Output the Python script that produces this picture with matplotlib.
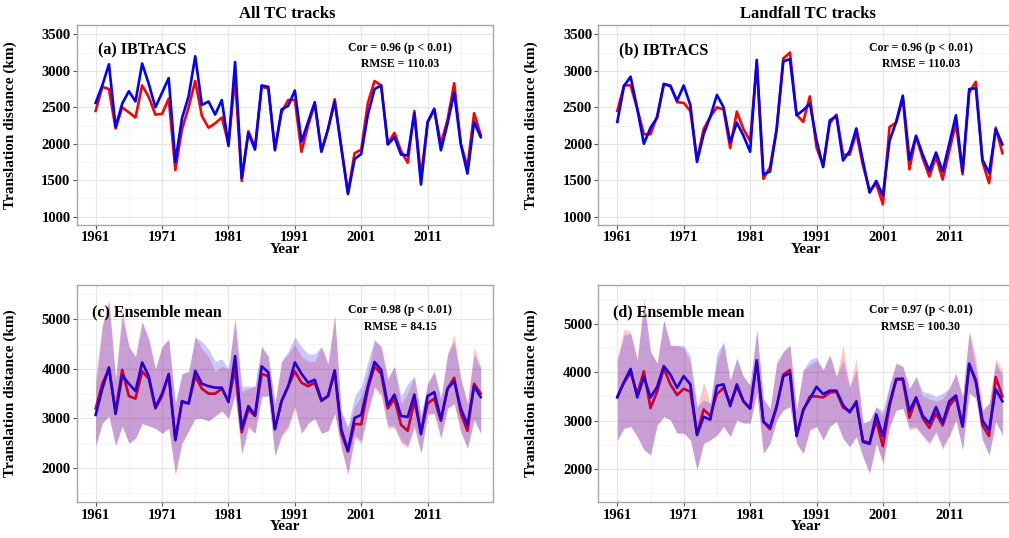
import matplotlib
matplotlib.use('Agg')
import matplotlib.pyplot as plt
from matplotlib.ticker import MultipleLocator, FixedLocator

# ---------------------------------------------------------------------------
# data (translation distance, km)

years = list(range(1961, 2020))

# (a) all TC tracks, IBTrACS (red) vs reconstruction (blue)
a_red = [2450, 2780, 2750, 2210, 2500, 2430, 2360, 2800, 2640, 2400,
         2410, 2620, 1640, 2200, 2500, 2860, 2380, 2220, 2280, 2360,
         2000, 2900, 1490, 2170, 1950, 2780, 2760, 1930, 2430, 2600,
         2600, 1890, 2250, 2550, 1900, 2200, 2610, 1950, 1330, 1870,
         1920, 2560, 2860, 2800, 2000, 2150, 1900, 1740, 2450, 1550,
         2290, 2470, 2000, 2330, 2830, 2000, 1680, 2420, 2120]
a_blue = [2560, 2800, 3090, 2230, 2550, 2720, 2580, 3100, 2820, 2500,
          2700, 2900, 1750, 2350, 2650, 3200, 2530, 2580, 2400, 2600,
          1970, 3120, 1530, 2150, 1920, 2800, 2780, 1910, 2470, 2520,
          2730, 2030, 2300, 2570, 1890, 2200, 2580, 1945, 1310, 1790,
          1860, 2400, 2750, 2800, 1990, 2090, 1850, 1840, 2420, 1440,
          2300, 2480, 1910, 2280, 2700, 1990, 1590, 2300, 2090]

# (b) landfall TC tracks, IBTrACS
b_red = [2450, 2800, 2800, 2480, 2130, 2130, 2380, 2820, 2800, 2570,
         2560, 2450, 1780, 2200, 2370, 2500, 2470, 1940, 2440, 2200,
         2040, 3100, 1520, 1680, 2200, 3170, 3250, 2400, 2300, 2650,
         1950, 1700, 2280, 2400, 1850, 1850, 2150, 1700, 1360, 1450,
         1170, 2230, 2290, 2620, 1650, 2100, 1800, 1550, 1820, 1510,
         1900, 2280, 1580, 2700, 2850, 1750, 1460, 2220, 1870]
b_blue = [2300, 2790, 2920, 2480, 2000, 2220, 2360, 2820, 2790, 2590,
          2800, 2530, 1750, 2130, 2370, 2670, 2500, 2020, 2290, 2110,
          1890, 3150, 1580, 1620, 2200, 3130, 3160, 2390, 2460, 2550,
          2050, 1680, 2320, 2380, 1770, 1900, 2210, 1760, 1330, 1490,
          1290, 2040, 2300, 2660, 1780, 2110, 1850, 1630, 1880, 1620,
          2000, 2390, 1620, 2750, 2760, 1780, 1600, 2200, 1990]

# (c) all TC tracks, ensemble mean and spread
c_red = [3200, 3700, 4000, 3150, 3980, 3450, 3400, 3950, 3800, 3200,
         3450, 3900, 2580, 3330, 3300, 3850, 3600, 3500, 3500, 3600,
         3350, 4000, 2720, 3180, 3050, 3900, 3850, 2800, 3350, 3650,
         3950, 3720, 3650, 3720, 3350, 3450, 3950, 2700, 2330, 2890,
         2880, 3600, 4050, 3900, 3200, 3400, 2870, 2750, 3350, 2720,
         3300, 3400, 2950, 3600, 3820, 3100, 2750, 3700, 3500]
c_blue = [3070, 3600, 4030, 3090, 3870, 3700, 3550, 4130, 3850, 3220,
          3500, 3880, 2560, 3350, 3300, 3960, 3700, 3650, 3620, 3620,
          3330, 4260, 2800, 3250, 3060, 4050, 3930, 2780, 3350, 3650,
          4130, 3900, 3720, 3780, 3370, 3450, 3970, 2780, 2350, 3010,
          3070, 3650, 4140, 3980, 3270, 3480, 3050, 3030, 3480, 2680,
          3450, 3530, 2980, 3600, 3750, 3200, 2870, 3650, 3430]
c_red_hi = [3850, 4900, 5400, 3800, 5250, 4450, 4250, 4950, 4600, 4000,
            4450, 4600, 3300, 3900, 3950, 4650, 4400, 4250, 3950, 4050,
            4000, 5000, 3550, 3600, 3650, 4450, 4250, 3300, 4150, 4300,
            4500, 4250, 4150, 4150, 4450, 4100, 5100, 3100, 2800, 3250,
            3450, 3950, 4550, 4450, 3800, 4050, 3300, 3500, 3850, 3050,
            3700, 3950, 3400, 4300, 4700, 3800, 3300, 4450, 4050]
c_blue_hi = [3650, 4850, 5350, 3800, 5050, 4450, 4250, 4950, 4600, 4000,
             4450, 4600, 3300, 3900, 3950, 4650, 4550, 4400, 4150, 4200,
             4000, 5000, 3650, 3650, 3650, 4450, 4250, 3300, 4150, 4350,
             4650, 4450, 4300, 4300, 4450, 4100, 5050, 3150, 2850, 3450,
             3650, 4150, 4600, 4450, 3800, 4050, 3450, 3700, 3850, 3050,
             3700, 3950, 3400, 4300, 4550, 3800, 3300, 4300, 4000]
c_red_lo = [2450, 2900, 3050, 2450, 2850, 2500, 2600, 2900, 2850, 2800,
            2700, 2800, 1850, 2500, 2750, 3000, 3000, 2950, 3050, 3150,
            3000, 3450, 2250, 2800, 2700, 3450, 3450, 2250, 2650, 2800,
            3200, 2700, 2900, 3000, 2700, 2750, 3100, 2400, 1850, 2600,
            2500, 3100, 3600, 3450, 2800, 2800, 2500, 2400, 2800, 2300,
            3050, 3100, 2600, 3200, 3300, 2700, 2400, 3000, 2700]
c_blue_lo = [2450, 2900, 3050, 2450, 2850, 2500, 2600, 2900, 2850, 2800,
             2700, 2800, 1900, 2500, 2750, 3000, 3000, 2950, 3050, 3150,
             3000, 3500, 2300, 2850, 2700, 3450, 3450, 2250, 2650, 2850,
             3250, 2700, 2900, 3000, 2700, 2750, 3100, 2400, 1900, 2650,
             2550, 3150, 3650, 3500, 2850, 2850, 2550, 2450, 2850, 2300,
             3100, 3100, 2600, 3200, 3300, 2750, 2400, 2950, 2700]

# (d) landfall TC tracks, ensemble mean and spread
d_red = [3500, 3780, 4000, 3550, 4020, 3260, 3600, 4080, 3750, 3530,
         3660, 3600, 2720, 3230, 3100, 3550, 3680, 3350, 3700, 3400,
         3250, 4200, 2980, 2820, 3280, 3950, 4050, 2700, 3200, 3500,
         3500, 3480, 3580, 3600, 3270, 3200, 3350, 2580, 2540, 3000,
         2470, 3300, 3850, 3850, 3060, 3450, 3050, 2850, 3150, 2900,
         3300, 3480, 2880, 4150, 3850, 2900, 2680, 3900, 3500]
d_blue = [3480, 3800, 4070, 3480, 3900, 3480, 3700, 4130, 3950, 3680,
          3920, 3750, 2700, 3080, 3020, 3720, 3750, 3300, 3750, 3400,
          3250, 4250, 2980, 2860, 3300, 3920, 3980, 2680, 3230, 3450,
          3700, 3550, 3620, 3620, 3320, 3170, 3400, 2560, 2520, 3130,
          2680, 3350, 3860, 3870, 3200, 3480, 3100, 2950, 3280, 2950,
          3400, 3520, 2880, 4180, 3800, 3000, 2800, 3650, 3400]
d_red_hi = [4300, 4890, 4840, 4250, 5530, 4430, 4190, 5080, 4560, 4560,
            4500, 4200, 3290, 3800, 3360, 4220, 4600, 3840, 4290, 3910,
            3740, 4880, 3450, 3250, 4190, 4430, 4560, 3220, 4050, 4150,
            4250, 4050, 4360, 3910, 4560, 3700, 4290, 2950, 3000, 3290,
            3100, 3740, 4190, 4120, 3670, 3910, 3500, 3450, 3400, 3450,
            3670, 3980, 3500, 4840, 4320, 3220, 3360, 4290, 4050]
d_blue_hi = [4250, 4770, 4800, 4250, 5450, 4430, 4190, 5080, 4560, 4560,
             4560, 4330, 3290, 3430, 3360, 4390, 4630, 3840, 4290, 3910,
             3740, 4880, 3450, 3250, 4190, 4430, 4560, 3220, 4050, 4260,
             4310, 4050, 4360, 3910, 4250, 3700, 4050, 2950, 3000, 3290,
             3200, 3740, 4190, 4120, 3670, 3910, 3600, 3570, 3500, 3570,
             3670, 3980, 3500, 4840, 4100, 3220, 3360, 4200, 3950]
d_red_lo = [2600, 2840, 2880, 2670, 2400, 2290, 2910, 3080, 3010, 2740,
            2740, 2600, 1980, 2530, 2600, 2700, 2880, 2670, 3010, 2950,
            2950, 3570, 2320, 2530, 3010, 3220, 3290, 2530, 2320, 2810,
            2880, 2600, 2880, 2980, 2630, 2460, 2670, 2250, 1910, 2530,
            2080, 2880, 3220, 3250, 2810, 2840, 2670, 2500, 2740, 2400,
            2670, 3010, 2400, 3570, 3460, 2600, 2290, 2980, 2700]
d_blue_lo = [2600, 2840, 2880, 2670, 2400, 2290, 2910, 3080, 3010, 2740,
             2740, 2600, 1980, 2530, 2600, 2700, 2880, 2670, 3010, 2950,
             2950, 3570, 2320, 2530, 3010, 3220, 3290, 2530, 2320, 2810,
             2880, 2600, 2880, 2980, 2630, 2460, 2670, 2250, 1910, 2530,
             2150, 2880, 3220, 3250, 2850, 2880, 2700, 2550, 2780, 2450,
             2700, 3010, 2400, 3570, 3460, 2600, 2290, 2980, 2700]

cor_text = ['Cor = 0.96 (p < 0.01)\nRMSE = 110.03',
            'Cor = 0.96 (p < 0.01)\nRMSE = 110.03',
            'Cor = 0.98 (p < 0.01)\nRMSE = 84.15',
            'Cor = 0.97 (p < 0.01)\nRMSE = 100.30']
panel_text = ['(a) IBTrACS', '(b) IBTrACS', '(c) Ensemble mean', '(d) Ensemble mean']

# ---------------------------------------------------------------------------
plt.rcParams['font.family'] = ['Liberation Serif', 'DejaVu Serif']
plt.rcParams['font.weight'] = 'bold'
plt.rcParams['axes.labelweight'] = 'bold'

RED = '#FF0000'
BLUE = '#0000FF'


def style_axes(ax, ylim, ystep):
    """ggplot theme_bw look: grey frame, light grid, small outside ticks"""
    ax.set_xlim(1958.14, 2020.8)
    ax.set_ylim(*ylim)
    ax.xaxis.set_major_locator(FixedLocator([1961, 1971, 1981, 1991, 2001, 2011]))
    ax.xaxis.set_minor_locator(FixedLocator([1966, 1976, 1986, 1996, 2006, 2016]))
    ax.yaxis.set_major_locator(MultipleLocator(ystep))
    ax.yaxis.set_minor_locator(MultipleLocator(ystep / 2))
    ax.set_axisbelow(True)
    ax.grid(which='major', color='#E6E6E6', linewidth=0.8)
    ax.grid(which='minor', color='#F2F2F2', linewidth=0.5)
    ax.tick_params(which='minor', length=0)
    ax.tick_params(which='major', length=3, width=0.8, color='#555555',
                   labelsize=10.5, pad=1.5)
    for sp in ax.spines.values():
        sp.set_color('#A6A6A6')
        sp.set_linewidth(1.0)
    ax.set_xlabel('Year', fontsize=11, labelpad=-1)
    ax.set_ylabel('Translation distance (km)', fontsize=11)


fig = plt.figure(figsize=(10.09, 5.38), dpi=100)

ax_a = fig.add_axes([0.0760, 0.5818, 0.4123, 0.3717])
ax_b = fig.add_axes([0.5930, 0.5818, 0.4123, 0.3717])
ax_c = fig.add_axes([0.0760, 0.0664, 0.4123, 0.4039])
ax_d = fig.add_axes([0.5930, 0.0664, 0.4123, 0.4039])

# top row: plain lines
for ax, red, blue in [(ax_a, a_red, a_blue), (ax_b, b_red, b_blue)]:
    ax.plot(years, red, color=RED, linewidth=1.9, zorder=3)
    ax.plot(years, blue, color=BLUE, linewidth=1.9, zorder=4)
    style_axes(ax, (886, 3628), 500)

# bottom row: lines with the ensemble spread drawn on top (as in the original)
bottom = [(ax_c, c_red, c_blue, c_red_lo, c_red_hi, c_blue_lo, c_blue_hi, (1308, 5692)),
          (ax_d, d_red, d_blue, d_red_lo, d_red_hi, d_blue_lo, d_blue_hi, (1310, 5807))]
for ax, red, blue, rlo, rhi, blo, bhi, ylim in bottom:
    ax.plot(years, red, color=RED, linewidth=1.9, zorder=3)
    ax.plot(years, blue, color=BLUE, linewidth=1.9, zorder=4)
    ax.fill_between(years, rlo, rhi, color=RED, alpha=0.21, linewidth=0, zorder=5)
    ax.fill_between(years, blo, bhi, color=BLUE, alpha=0.21, linewidth=0, zorder=6)
    style_axes(ax, ylim, 1000)

# label positions in axes fraction
for ax, lab, cor, lx, cx in [(ax_a, panel_text[0], cor_text[0], 0.051, 0.777),
                             (ax_b, panel_text[1], cor_text[1], 0.0505, 0.775),
                             (ax_c, panel_text[2], cor_text[2], 0.038, 0.777),
                             (ax_d, panel_text[3], cor_text[3], 0.036, 0.775)]:
    ax.text(lx, 0.875, lab, transform=ax.transAxes, fontsize=11.5,
            ha='left', va='center', zorder=10)
    ax.text(cx, 0.845, cor, transform=ax.transAxes, fontsize=8.5,
            ha='center', va='center', linespacing=1.5, zorder=10)

for ax in [ax_a, ax_c]:
    ax.yaxis.set_label_coords(-0.1435, 0.5)
for ax in [ax_b, ax_d]:
    ax.yaxis.set_label_coords(-0.145, 0.5)

fig.text(0.2844, 0.974, 'All TC tracks', fontsize=12, ha='center', va='center')
fig.text(0.8008, 0.974, 'Landfall TC tracks', fontsize=12, ha='center', va='center')

fig.savefig('out.png', dpi=100)
